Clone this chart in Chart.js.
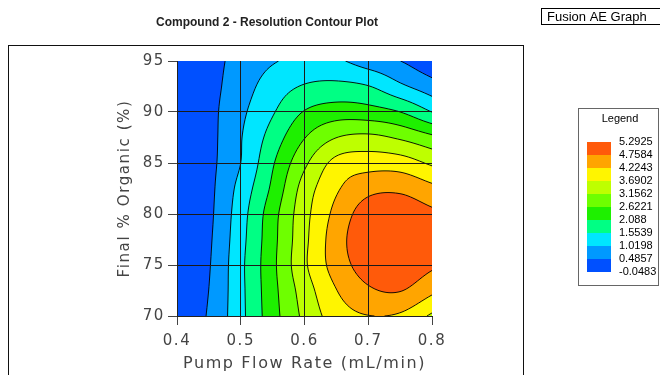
<!DOCTYPE html>
<html>
<head>
<meta charset="utf-8">
<title>Compound 2 - Resolution Contour Plot</title>
<script src="https://cdn.jsdelivr.net/npm/chart.js@4.4.1/dist/chart.umd.min.js"></script>
<style>
  html, body { margin: 0; padding: 0; background: #fff; }
  canvas { display: block; }
</style>
</head>
<body>
<canvas id="contour" width="660" height="375"></canvas>
<script>
// grid of the fitted surface: pump flow rate (mL/min) x final % organic
const flowRates = [0.40, 0.45, 0.50, 0.55, 0.60, 0.65, 0.70, 0.75, 0.80];
const organicPct = [70, 72.5, 75, 77.5, 80, 82.5, 85, 87.5, 90, 92.5, 95];

// resolution, one row per % organic (70 -> 95), one column per flow rate
const resolution = [
  [0.10,   0.54,  1.41,  2.41,  3.28, 3.95, 4.21, 4.14,   3.60],
  [0.09,   0.49,  1.42,  2.45,  3.41, 4.21, 4.68, 4.78,   4.34],
  [0.07,   0.45,  1.43,  2.49,  3.60, 4.46, 5.00, 5.12,   4.84],
  [0.06,   0.415, 1.38,  2.455, 3.56, 4.51, 5.15, 5.2925, 5.02],
  [0.05,   0.38,  1.325, 2.41,  3.51, 4.38, 5.02, 5.08,   4.86],
  [0.04,   0.36,  1.21,  2.20,  3.38, 4.15, 4.60, 4.65,   4.36],
  [0.03,   0.35,  1.02,  2.03,  3.05, 3.85, 3.99, 3.95,   3.60],
  [0.02,   0.33,  0.99,  1.78,  2.60, 3.15, 3.28, 3.08,   2.74],
  [0.00,   0.33,  0.905, 1.506, 2.12, 2.36, 2.31, 2.09,   1.55],
  [-0.03,  0.31,  0.776, 1.27,  1.60, 1.69, 1.58, 1.13,   0.73],
  [-0.0483, 0.30, 0.66,  0.975, 1.15, 1.10, 0.75, 0.49,   0.05]
];

// contour levels shown in the legend, low -> high
const levels = [-0.0483, 0.4857, 1.0198, 1.5539, 2.088, 2.6221, 3.1562, 3.6902, 4.2243, 4.7584, 5.2925];
const bandColors = ['#0050FF', '#0099FF', '#00E6FF', '#00FF84', '#1EF000',
                    '#6EFF00', '#BEFF00', '#FFF500', '#FFA500', '#FF5A0A'];

const xTicks = [0.4, 0.5, 0.6, 0.7, 0.8];
const yTicks = [70, 75, 80, 85, 90, 95];

const AXIS_FONT = '"DejaVu Sans", sans-serif';
const LABEL_FONT = '"Liberation Sans", Arial, sans-serif';
const AXIS_SPACING = '1.6px';

// --- surface lookup (bicubic Catmull-Rom over the grid) ---
function cell(i, j) {
  const ni = flowRates.length, nj = organicPct.length;
  if (i < 0) return 2 * cell(0, j) - cell(1, j);
  if (i >= ni) return 2 * cell(ni - 1, j) - cell(ni - 2, j);
  if (j < 0) return 2 * cell(i, 0) - cell(i, 1);
  if (j >= nj) return 2 * cell(i, nj - 1) - cell(i, nj - 2);
  return resolution[j][i];
}
function cr(p0, p1, p2, p3, t) {
  return 0.5 * (2 * p1 + (-p0 + p2) * t + (2 * p0 - 5 * p1 + 4 * p2 - p3) * t * t +
    (-p0 + 3 * p1 - 3 * p2 + p3) * t * t * t);
}
function gridPos(v, arr) {
  const step = arr[1] - arr[0];
  let f = (v - arr[0]) / step;
  f = Math.max(0, Math.min(arr.length - 1, f));
  let k = Math.min(Math.floor(f), arr.length - 2);
  return [k, f - k];
}
function surface(xv, yv) {
  const [i, tx] = gridPos(xv, flowRates);
  const [j, ty] = gridPos(yv, organicPct);
  const rows = [];
  for (let r = -1; r <= 2; r++) {
    rows.push(cr(cell(i - 1, j + r), cell(i, j + r), cell(i + 1, j + r), cell(i + 2, j + r), tx));
  }
  return cr(rows[0], rows[1], rows[2], rows[3], ty);
}
function band(z) {
  let b = 0;
  for (let k = 1; k < levels.length - 1; k++) if (z >= levels[k]) b = k;
  return b;
}
const bandRgb = bandColors.map(h => [1, 3, 5].map(p => parseInt(h.slice(p, p + 2), 16)));

// filled bands + black isolines, painted under the grid
const contourPlugin = {
  id: 'contour',
  beforeDraw(chart) {
    const {ctx, chartArea: a, scales: {x, y}} = chart;
    ctx.letterSpacing = AXIS_SPACING;
    const left = Math.round(a.left), top = Math.round(a.top);
    const w = Math.round(a.right) - left, h = Math.round(a.bottom) - top;

    const img = ctx.createImageData(w, h);
    for (let j = 0; j < h; j++) {
      const yv = y.getValueForPixel(top + j + 0.5);
      for (let i = 0; i < w; i++) {
        const c = bandRgb[band(surface(x.getValueForPixel(left + i + 0.5), yv))];
        const k = (j * w + i) * 4;
        img.data[k] = c[0]; img.data[k + 1] = c[1]; img.data[k + 2] = c[2]; img.data[k + 3] = 255;
      }
    }
    const off = document.createElement('canvas');
    off.width = w; off.height = h;
    off.getContext('2d').putImageData(img, 0, 0);
    ctx.drawImage(off, left, top);

    // marching squares on a 2px lattice
    const step = 2;
    const nx = Math.ceil(w / step) + 1, ny = Math.ceil(h / step) + 1;
    const px = [], py = [];
    for (let i = 0; i < nx; i++) px.push(Math.min(left + i * step, left + w));
    for (let j = 0; j < ny; j++) py.push(Math.min(top + j * step, top + h));
    const f = [];
    for (let j = 0; j < ny; j++) {
      const yv = y.getValueForPixel(py[j]);
      const row = [];
      for (let i = 0; i < nx; i++) row.push(surface(x.getValueForPixel(px[i]), yv));
      f.push(row);
    }

    ctx.save();
    ctx.beginPath();
    ctx.rect(left, top, w, h);
    ctx.clip();
    ctx.strokeStyle = 'rgba(0,0,0,0.9)';
    ctx.lineWidth = 1;
    for (let l = 1; l < levels.length - 1; l++) {
      const L = levels[l];
      ctx.beginPath();
      for (let j = 0; j < ny - 1; j++) {
        for (let i = 0; i < nx - 1; i++) {
          const corners = [
            [px[i], py[j], f[j][i]], [px[i + 1], py[j], f[j][i + 1]],
            [px[i + 1], py[j + 1], f[j + 1][i + 1]], [px[i], py[j + 1], f[j + 1][i]]
          ];
          const pts = [];
          for (let e = 0; e < 4; e++) {
            const p = corners[e], q = corners[(e + 1) % 4];
            if ((p[2] < L) !== (q[2] < L)) {
              const t = (L - p[2]) / (q[2] - p[2]);
              pts.push([p[0] + t * (q[0] - p[0]), p[1] + t * (q[1] - p[1])]);
            }
          }
          for (let k = 0; k + 1 < pts.length; k += 2) {
            ctx.moveTo(pts[k][0], pts[k][1]);
            ctx.lineTo(pts[k + 1][0], pts[k + 1][1]);
          }
        }
      }
      ctx.stroke();
    }
    ctx.restore();
  }
};

// wide tracking on the axis text
const spacingPlugin = {
  id: 'spacing',
  beforeLayout(chart) { chart.ctx.letterSpacing = AXIS_SPACING; }
};

// frame, title, header tag and colour legend
const decorPlugin = {
  id: 'decor',
  afterDraw(chart) {
    const ctx = chart.ctx;
    ctx.save();
    ctx.letterSpacing = '0px';
    ctx.lineWidth = 1;

    ctx.strokeStyle = '#111';
    ctx.strokeRect(8.5, 45.5, 515, 400);

    ctx.fillStyle = '#222';
    ctx.font = 'bold 12px ' + LABEL_FONT;
    ctx.textAlign = 'center';
    ctx.textBaseline = 'middle';
    ctx.fillText('Compound 2 - Resolution Contour Plot', 267, 23);

    ctx.strokeStyle = '#000';
    ctx.strokeRect(541.5, 8.5, 140, 16);
    ctx.fillStyle = '#000';
    ctx.font = '13px ' + LABEL_FONT;
    ctx.textAlign = 'left';
    ctx.fillText('Fusion AE Graph', 547, 17);

    ctx.strokeStyle = '#666';
    ctx.strokeRect(578.5, 108.5, 80, 177);
    ctx.font = '11px ' + LABEL_FONT;
    ctx.textAlign = 'center';
    ctx.fillText('Legend', 620, 119);

    const n = bandColors.length, sw = 13, top = 142;
    for (let k = 0; k < n; k++) {
      ctx.fillStyle = bandColors[n - 1 - k];
      ctx.fillRect(587, top + k * sw, 24, sw);
    }
    ctx.fillStyle = '#000';
    ctx.textAlign = 'left';
    for (let k = 0; k < levels.length; k++) {
      ctx.fillText(String(levels[levels.length - 1 - k]), 619, top + k * sw);
    }
    ctx.restore();
  }
};

const gridColor = edge => c => (c.tick && c.tick.value === edge) ? 'rgba(0,0,0,0)' : '#1a1a1a';

const points = [];
organicPct.forEach((yv, j) => flowRates.forEach((xv, i) => points.push({x: xv, y: yv, z: resolution[j][i]})));

new Chart(document.getElementById('contour'), {
  type: 'scatter',
  data: {
    datasets: [{ label: 'Resolution', data: points, pointRadius: 0, showLine: false }]
  },
  options: {
    responsive: false,
    animation: false,
    events: [],
    layout: { padding: { left: 0, top: 61, right: 228, bottom: 0 } },
    plugins: { legend: { display: false }, tooltip: { enabled: false } },
    scales: {
      x: {
        type: 'linear',
        min: 0.4,
        max: 0.8,
        afterBuildTicks: s => { s.ticks = xTicks.map(v => ({ value: v })); },
        afterFit: s => { s.height = 59; },
        ticks: {
          autoSkip: false, maxRotation: 0, padding: 7, color: '#444',
          font: { family: AXIS_FONT, size: 15 },
          callback: v => Number(v).toFixed(1)
        },
        grid: { color: gridColor(0.8), lineWidth: 1, tickLength: 9, tickColor: '#444' },
        border: { display: true, color: '#222', width: 1 },
        title: {
          display: true, text: 'Pump Flow Rate (mL/min)', color: '#444',
          font: { family: AXIS_FONT, size: 16 }, padding: { top: 4, bottom: 2 }
        }
      },
      y: {
        type: 'linear',
        min: 70,
        max: 95,
        afterBuildTicks: s => { s.ticks = yTicks.map(v => ({ value: v })); },
        afterFit: s => { s.width = 177; },
        ticks: {
          autoSkip: false, padding: 3, color: '#444',
          font: { family: AXIS_FONT, size: 15 },
          callback: v => String(v)
        },
        grid: { color: gridColor(95), lineWidth: 1, tickLength: 9, tickColor: '#444' },
        border: { display: true, color: '#222', width: 1 },
        title: {
          display: true, text: 'Final % Organic (%)', color: '#444',
          font: { family: AXIS_FONT, size: 15 }, padding: { top: 116, bottom: 0 }
        }
      }
    }
  },
  plugins: [spacingPlugin, contourPlugin, decorPlugin]
});
</script>
</body>
</html>
